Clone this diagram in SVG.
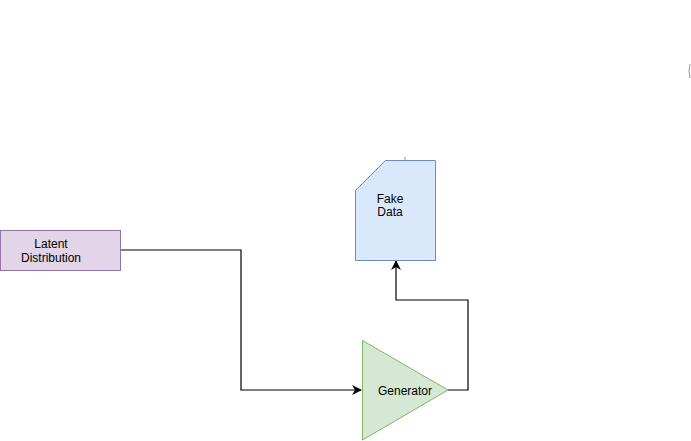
<svg xmlns="http://www.w3.org/2000/svg" width="691" height="441" viewBox="0 0 691 441">
<defs>
<marker id="arr" viewBox="0 0 10 10" refX="9" refY="5" markerWidth="10" markerHeight="10" markerUnits="userSpaceOnUse" orient="auto">
<path d="M0,0 L10,5 L0,10 L3,5 Z" fill="#000"/>
</marker>
</defs>
<style>
text{font-family:"Liberation Sans",Arial,sans-serif;font-size:12px;fill:#000;text-anchor:middle}
.edge{fill:none;stroke:#000;stroke-width:1.2}
</style>
<rect width="691" height="441" fill="#fff"/>
<path d="M690,64 Q688,71 690,78" fill="none" stroke="#999" stroke-width="1"/>
<g id="connectors">
<path class="edge" d="M120,250 H241 V390 H361" marker-end="url(#arr)"/>
<path class="edge" d="M448,390 H468 V300 H396 V261" marker-end="url(#arr)"/>
</g>
<g id="latent">
<rect x="0.5" y="230.5" width="120" height="40" fill="#e1d5e7" stroke="#9673a6"/>
<text x="51" y="248">Latent</text>
<text x="51" y="262">Distribution</text>
</g>
<g id="fake-data">
<path d="M385.5,160.5 H435.5 V260.5 H355.5 V190.5 Z" fill="#dae8fc" stroke="#6c8ebf"/>
<line x1="405" y1="157" x2="405" y2="160" stroke="#6c8ebf"/>
<text x="390" y="203">Fake</text>
<text x="390" y="216">Data</text>
</g>
<g id="generator">
<path d="M362.5,340.5 L448,390 L362.5,440 Z" fill="#d5e8d4" stroke="#82b366"/>
<text x="405" y="395">Generator</text>
</g>
</svg>
